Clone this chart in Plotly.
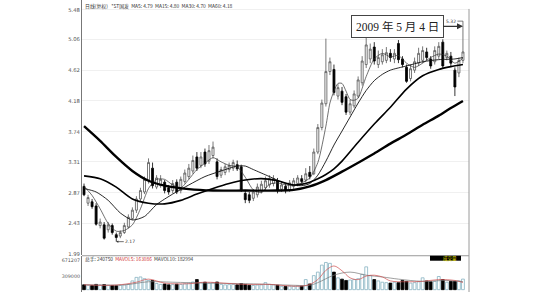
import plotly.graph_objects as go

W, H = 550, 294

# ---------------- data ----------------
open_ = [2.96, 2.72, 2.74, 2.68, 2.40, 2.41, 2.34, 2.40, 2.27, 2.25,
         2.30, 2.38, 2.50, 2.62, 2.78, 2.88, 3.05, 3.22, 2.95, 2.97,
         3.02, 2.94, 2.90, 3.02, 2.90, 3.03, 3.10, 3.18, 3.38, 3.26,
         3.45, 3.32, 3.40, 3.31, 3.12, 3.16, 3.20, 3.22, 3.27, 3.24,
         2.86, 2.84, 2.79, 2.84, 2.90, 2.94, 2.98, 3.00, 3.04, 2.92,
         2.96, 2.91, 2.96, 3.00, 3.07, 3.05, 3.16, 3.14, 3.45, 3.80,
         4.14, 4.60, 4.63, 4.25, 4.32, 4.24, 4.02, 4.11, 4.25, 4.44,
         4.70, 4.78, 4.95, 4.70, 4.74, 4.76, 4.86, 4.78, 5.00, 4.78,
         4.66, 4.50, 4.62, 4.72, 4.76, 4.88, 4.78, 4.74, 4.82, 5.02,
         4.80, 4.82, 4.62, 4.58, 4.76]
high_ = [3.00, 2.84, 2.78, 2.72, 2.50, 2.45, 2.45, 2.43, 2.30, 2.33,
         2.44, 2.56, 2.66, 2.82, 2.94, 3.10, 3.36, 3.30, 3.12, 3.12,
         3.05, 2.98, 3.05, 3.06, 3.10, 3.20, 3.28, 3.40, 3.45, 3.45,
         3.50, 3.55, 3.60, 3.36, 3.24, 3.28, 3.30, 3.34, 3.33, 3.27,
         2.90, 2.88, 2.92, 3.00, 3.04, 3.10, 3.12, 3.12, 3.08, 3.02,
         3.00, 3.05, 3.08, 3.12, 3.12, 3.22, 3.25, 3.50, 3.85, 4.20,
         5.07, 4.80, 4.70, 4.42, 4.38, 4.28, 4.20, 4.33, 4.53, 4.82,
         5.18, 5.00, 5.02, 4.90, 4.92, 4.95, 4.92, 4.92, 5.05, 4.82,
         4.70, 4.70, 4.80, 4.94, 4.96, 4.94, 4.82, 4.96, 5.02, 5.06,
         4.90, 4.88, 4.66, 4.80, 5.32]
low_ = [2.82, 2.68, 2.64, 2.40, 2.36, 2.20, 2.30, 2.27, 2.17, 2.22,
        2.28, 2.36, 2.48, 2.58, 2.74, 2.85, 3.00, 2.93, 2.92, 2.94,
        2.86, 2.84, 2.86, 2.85, 2.86, 3.00, 3.06, 3.14, 3.18, 3.22,
        3.24, 3.28, 3.36, 3.06, 3.08, 3.12, 3.16, 3.18, 3.18, 2.88,
        2.72, 2.72, 2.75, 2.80, 2.86, 2.90, 2.94, 2.96, 2.86, 2.88,
        2.86, 2.88, 2.92, 2.96, 3.00, 3.02, 3.06, 3.12, 3.42, 3.76,
        4.10, 4.55, 4.26, 4.20, 4.12, 3.98, 3.98, 4.08, 4.22, 4.40,
        4.65, 4.72, 4.70, 4.65, 4.70, 4.72, 4.74, 4.72, 4.72, 4.66,
        4.44, 4.46, 4.58, 4.68, 4.72, 4.76, 4.64, 4.70, 4.78, 4.64,
        4.76, 4.68, 4.25, 4.52, 4.72]
close_ = [2.84, 2.80, 2.67, 2.42, 2.45, 2.22, 2.41, 2.30, 2.23, 2.30,
          2.40, 2.52, 2.62, 2.78, 2.90, 3.06, 3.30, 2.97, 3.08, 3.06,
          2.90, 2.88, 3.00, 2.88, 3.06, 3.15, 3.22, 3.33, 3.22, 3.38,
          3.28, 3.47, 3.52, 3.10, 3.20, 3.24, 3.26, 3.30, 3.21, 2.91,
          2.77, 2.76, 2.88, 2.95, 2.99, 3.04, 3.07, 3.07, 2.90, 2.98,
          2.90, 3.01, 3.04, 3.08, 3.03, 3.14, 3.10, 3.45, 3.80, 4.15,
          4.60, 4.74, 4.30, 4.37, 4.16, 4.02, 4.14, 4.28, 4.48, 4.75,
          4.98, 4.92, 4.75, 4.80, 4.84, 4.87, 4.80, 4.86, 4.77, 4.70,
          4.46, 4.64, 4.74, 4.86, 4.90, 4.80, 4.68, 4.90, 4.96, 4.68,
          4.86, 4.72, 4.38, 4.76, 4.88]
volume = [110000, 100000, 95000, 120000, 105000, 115000, 100000, 95000, 90000, 100000,
          110000, 120000, 200000, 280000, 290000, 250000, 210000, 210000, 140000, 120000,
          130000, 110000, 115000, 125000, 120000, 135000, 150000, 175000, 230000, 160000,
          170000, 150000, 160000, 175000, 120000, 110000, 115000, 120000, 110000, 140000,
          120000, 100000, 95000, 105000, 110000, 160000, 120000, 110000, 100000, 70000,
          75000, 80000, 75000, 85000, 80000, 230000, 130000, 320000, 400000, 560000,
          620000, 600000, 400000, 270000, 240000, 210000, 220000, 230000, 250000, 350000,
          520000, 320000, 230000, 200000, 170000, 160000, 150000, 170000, 160000, 210000,
          190000, 150000, 160000, 180000, 270000, 200000, 180000, 190000, 300000, 230000,
          170000, 190000, 190000, 200000, 240750]

ma5_x = [0, 2, 4, 6, 8, 10, 12, 14, 16, 18, 20, 22, 24, 26, 28, 30, 32, 34, 36, 38,
         40, 42, 44, 46, 48, 50, 52, 54, 56, 58, 60, 61, 62, 63, 64, 65, 66, 67, 68, 70,
         72, 74, 76, 78, 80, 82, 84, 86, 88, 90, 92, 94]
ma5_v = [2.96, 2.83, 2.64, 2.43, 2.32, 2.33, 2.41, 2.64, 2.93, 3.06, 3.06, 2.98, 2.94, 3.06,
         3.20, 3.29, 3.37, 3.31, 3.26, 3.24, 3.09, 2.91, 2.87, 2.99, 3.01, 2.98, 2.97, 3.01,
         3.08, 3.30, 3.82, 4.15, 4.32, 4.43, 4.43, 4.32, 4.20, 4.19, 4.22, 4.53, 4.78, 4.86,
         4.81, 4.83, 4.72, 4.66, 4.72, 4.80, 4.85, 4.82, 4.72, 4.79]
ma15_x = [0, 3, 6, 9, 12, 15, 18, 22, 26, 30, 34, 38, 40, 42, 46, 50, 54, 56, 58, 60,
          62, 64, 66, 68, 70, 72, 74, 76, 80, 84, 88, 92, 94]
ma15_v = [2.93, 2.88, 2.76, 2.58, 2.48, 2.53, 2.70, 2.85, 2.98, 3.10, 3.18, 3.25, 3.25,
          3.20, 3.10, 3.00, 2.97, 3.00, 3.12, 3.32, 3.55, 3.75, 3.95, 4.15, 4.33, 4.47,
          4.56, 4.62, 4.68, 4.74, 4.77, 4.78, 4.80]
ma30_x = [0, 4, 8, 12, 16, 20, 24, 28, 32, 36, 40, 44, 48, 52, 56, 58, 60, 62, 64, 68,
          72, 76, 80, 84, 88, 91, 94]
ma30_v = [3.11, 3.07, 2.95, 2.78, 2.72, 2.71, 2.76, 2.85, 2.93, 3.00, 3.05, 3.07, 3.04,
          2.98, 3.02, 3.07, 3.13, 3.21, 3.32, 3.59, 3.85, 4.09, 4.35, 4.54, 4.63, 4.67, 4.70]
ma60_x = [0, 4, 8, 12, 16, 20, 26, 32, 40, 48, 52, 56, 60, 64, 69, 72, 76, 80, 84, 88,
          91, 94]
ma60_v = [3.82, 3.61, 3.38, 3.18, 3.04, 2.97, 2.92, 2.90, 2.90, 2.90, 2.91, 2.96, 3.05,
          3.17, 3.33, 3.43, 3.57, 3.70, 3.84, 3.97, 4.08, 4.18]

mavol5_x = [0, 8, 13, 16, 20, 26, 30, 36, 40, 46, 50, 54, 56, 58, 60, 62, 64, 66, 68, 70,
            72, 74, 76, 80, 84, 88, 92, 94]
mavol5_v = [110000, 105000, 170000, 240000, 150000, 135000, 170000, 140000, 120000, 120000,
            90000, 80000, 120000, 230000, 440000, 540000, 430000, 270000, 230000, 310000,
            330000, 290000, 200000, 180000, 190000, 230000, 210000, 163086]
mavol10_x = [0, 10, 16, 22, 30, 38, 46, 52, 56, 58, 62, 66, 70, 74, 78, 84, 90, 94]
mavol10_v = [115000, 110000, 180000, 170000, 150000, 140000, 120000, 100000, 100000, 160000,
             330000, 400000, 330000, 290000, 240000, 190000, 210000, 182994]

price_ticks = [5.48, 5.06, 4.62, 4.18, 3.74, 3.31, 2.87, 2.43, 1.99]
vol_ticks = [309000, 671207]
vol_tick_text = ["309000", "671207"]

header_text = "日线(复权)   *ST国发  MA5: 4.79  MA15: 4.80  MA30: 4.70  MA60: 4.18"
vol_header = ("总手: 240750  <span style='color:#d03030'>MAVOL5: 163086</span>"
              "  MAVOL10: 182994")
date_label = "2009 年 5 月 4 日"
high_label = "5.32"
low_label = "2.17"

# ---------------- figure ----------------
x = list(range(len(close_)))
assert len(open_) == len(high_) == len(low_) == len(close_) == len(volume) == 95

def px_x(p):
    return p / W

def px_y(p):
    return 1 - p / H

fig = go.Figure()

fig.add_trace(go.Candlestick(
    x=x, open=open_, high=high_, low=low_, close=close_,
    increasing=dict(fillcolor="white", line=dict(color="#555555", width=0.8)),
    decreasing=dict(fillcolor="black", line=dict(color="black", width=0.8)),
    whiskerwidth=0, showlegend=False, hoverinfo="skip",
    xaxis="x", yaxis="y"))

for xs, vs, w, c in [(ma5_x, ma5_v, 0.7, "#333333"),
                     (ma15_x, ma15_v, 0.9, "#111111"),
                     (ma30_x, ma30_v, 1.6, "#000000"),
                     (ma60_x, ma60_v, 2.4, "#000000")]:
    fig.add_trace(go.Scatter(x=xs, y=vs, mode="lines",
                             line=dict(color=c, width=w, shape="spline", smoothing=0.7),
                             showlegend=False, hoverinfo="skip",
                             xaxis="x", yaxis="y"))

up = [c >= o for o, c in zip(open_, close_)]
fig.add_trace(go.Bar(
    x=x, y=volume, width=0.7,
    marker=dict(color=["white" if u else "black" for u in up],
                line=dict(color=["#86b2c2" if u else "black" for u in up], width=0.8)),
    showlegend=False, hoverinfo="skip", xaxis="x2", yaxis="y2"))

fig.add_trace(go.Scatter(x=mavol10_x, y=mavol10_v, mode="lines",
                         line=dict(color="#777777", width=0.7, shape="spline"),
                         showlegend=False, hoverinfo="skip", xaxis="x2", yaxis="y2"))
fig.add_trace(go.Scatter(x=mavol5_x, y=mavol5_v, mode="lines",
                         line=dict(color="#d05050", width=0.7, shape="spline"),
                         showlegend=False, hoverinfo="skip", xaxis="x2", yaxis="y2"))

xdom = [82 / W, 469 / W]
xrange = [-0.5, 95.5]
tickfont = dict(family="DejaVu Sans", size=5.3, color="#555555")
voltickfont = dict(family="DejaVu Sans", size=4.8, color="#555555")

fig.update_layout(
    width=W, height=H,
    margin=dict(l=0, r=0, t=0, b=0),
    paper_bgcolor="white", plot_bgcolor="white",
    xaxis=dict(domain=xdom, range=xrange, anchor="y", showticklabels=False,
               showgrid=False, zeroline=False, showline=False, ticks="",
               rangeslider=dict(visible=False), fixedrange=True),
    xaxis2=dict(domain=xdom, range=xrange, anchor="y2", matches="x",
                showticklabels=False, showgrid=False, zeroline=False,
                showline=False, ticks=""),
    yaxis=dict(domain=[1 - 257 / H, 1], range=[1.976, 5.622], anchor="x",
               tickvals=price_ticks, ticktext=[f"{v:.2f}" for v in price_ticks],
               tickfont=tickfont, showgrid=True, gridcolor="#f0f0f0", gridwidth=1,
               zeroline=False, showline=True, linecolor="#777777", linewidth=1,
               ticks=""),
    yaxis2=dict(domain=[0, 1 - 258 / H], range=[-53200, 761800], anchor="x2",
                tickvals=vol_ticks, ticktext=vol_tick_text, tickfont=voltickfont,
                showgrid=False, zeroline=False, showline=True,
                linecolor="#777777", linewidth=1, ticks=""),
    bargap=0.3,
)

shapes = [
    # right border
    dict(type="line", xref="paper", yref="paper", x0=px_x(469), x1=px_x(469),
         y0=0, y1=px_y(9), line=dict(color="#9a9a9a", width=1)),
    # panel divider
    dict(type="line", xref="paper", yref="paper", x0=px_x(82), x1=px_x(469),
         y0=px_y(257.5), y1=px_y(257.5), line=dict(color="#999999", width=1)),
    # 成交量 tag background
    dict(type="rect", xref="paper", yref="paper", x0=px_x(430), x1=px_x(461),
         y0=px_y(262.5), y1=px_y(257.5), fillcolor="black", line=dict(width=0)),
]
fig.update_layout(shapes=shapes)

annotations = [
    dict(text=header_text, xref="paper", yref="paper", x=px_x(83), y=px_y(6.5),
         xanchor="left", yanchor="middle", showarrow=False,
         font=dict(family="Noto Sans CJK SC", size=4.9, color="#333333")),
    dict(text=vol_header, xref="paper", yref="paper", x=px_x(83), y=px_y(260.5),
         xanchor="left", yanchor="middle", showarrow=False,
         font=dict(family="Noto Sans CJK SC", size=4.8, color="#333333")),
    dict(text="成交量", xref="paper", yref="paper", x=px_x(450), y=px_y(260),
         xanchor="center", yanchor="middle", showarrow=False,
         font=dict(family="Noto Sans CJK SC", size=4.5, color="#e8e000")),
    dict(text=date_label, xref="paper", yref="paper", x=px_x(463), y=px_y(26.5),
         ax=-66, ay=0, axref="pixel", ayref="pixel",
         showarrow=True, arrowhead=2, arrowsize=1, arrowwidth=1.2, arrowcolor="#333333",
         bordercolor="#444444", borderwidth=1, borderpad=4, bgcolor="white",
         font=dict(family="Liberation Serif, Noto Sans CJK SC", size=11.5, color="#222222")),
    dict(text=high_label, x=94, y=5.32, xref="x", yref="y",
         ax=-12, ay=0, showarrow=True, arrowhead=0, arrowwidth=0.7,
         arrowcolor="#444444", standoff=0,
         font=dict(family="DejaVu Sans", size=4.5, color="#333333")),
    dict(text=low_label, x=8, y=2.17, xref="x", yref="y",
         ax=14, ay=0, showarrow=True, arrowhead=2, arrowsize=0.6, arrowwidth=0.7,
         arrowcolor="#333333",
         font=dict(family="DejaVu Sans", size=4.5, color="#333333")),
]
fig.update_layout(annotations=annotations)

fig.write_html("out.html")
